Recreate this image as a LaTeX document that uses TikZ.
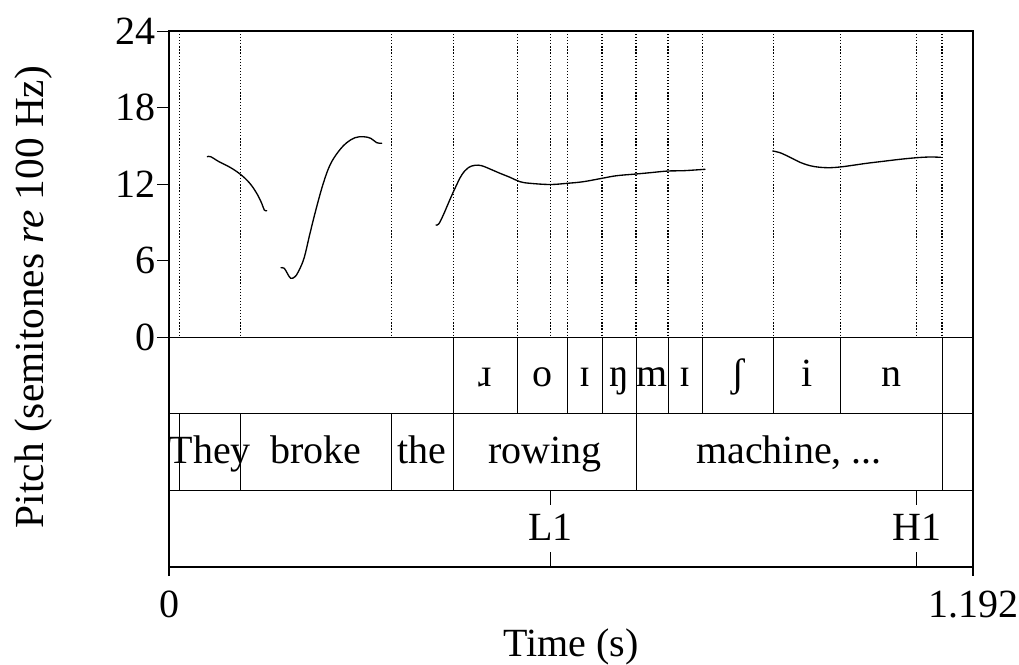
\documentclass[tikz,border=0pt]{standalone}
\usepackage{fontspec}
\setmainfont{Liberation Serif}
\begin{document}
\begin{tikzpicture}[x=0.75pt,y=0.75pt,yscale=-1,xscale=1,
  font=\fontsize{30}{34}\selectfont,
  bound/.style={dash pattern={on 0.9pt off 1.4pt}, line width=0.9pt},
  tier/.style={line width=0.75pt},
  frame/.style={line width=1.5pt},
  pitch/.style={line width=1pt, line join=round, line cap=round}]
\useasboundingbox (0,0) rectangle (1019,664); %set diagram to 1019 x 664

%Dotted boundaries in the pitch area
\draw [bound] (179.3,31) -- (179.3,337) ;
\draw [bound] (240.3,31) -- (240.3,337) ;
\draw [bound] (391.3,31) -- (391.3,337) ;
\draw [bound] (453.3,31) -- (453.3,337) ;
\draw [bound] (517.7,31) -- (517.7,337) ;
\draw [bound] (550.3,31) -- (550.3,337) ;
\draw [bound] (567.3,31) -- (567.3,337) ;
\draw [bound] (602,31) -- (602,337) ;
\draw [bound] (636,31) -- (636,337) ;
\draw [bound] (668,31) -- (668,337) ;
\draw [bound] (702.7,31) -- (702.7,337) ;
\draw [bound] (773.7,31) -- (773.7,337) ;
\draw [bound] (840.3,31) -- (840.3,337) ;
\draw [bound] (916.7,31) -- (916.7,337) ;
\draw [bound] (942,31) -- (942,337) ;

%Pitch contours
\draw [pitch] plot [smooth, tension=0.6] coordinates {(207.3,156.7) (210.7,156.7) (219,161.7) (230,167.3) (240,174) (249.3,182.7) (256.7,193.3) (261.7,203.3) (264.3,210) (266.7,210.7)} ;
\draw [pitch] plot [smooth, tension=0.6] coordinates {(281,267.7) (284.3,268.3) (287.3,273.3) (290.7,278.3) (295,276.7) (298.3,271.7) (304,258.3) (310,233.3) (316.7,206.7) (323.3,183.3) (330,165) (338.3,151.7) (346.7,142.7) (355,137.7) (363.3,136.7) (370.7,138.3) (376.7,142.7) (381.7,143.3)} ;
\draw [pitch] plot [smooth, tension=0.6] coordinates {(436,225) (438.7,224) (443.3,215) (449,201.7) (455,188.3) (461.7,175) (468.3,167.7) (475,165.3) (481.7,165.7) (490,169) (500,173.3) (510,177.3) (520,181.7) (530,183.3) (550,184.5) (567.3,183.3) (583.3,181.7) (602,178.3) (616.7,175.7) (636,174) (650,172.7) (668,171) (683.3,170.7) (705,169.3)} ;
\draw [pitch] plot [smooth, tension=0.6] coordinates {(772.7,151) (780,152.7) (790,157.3) (800,162.3) (810,165.7) (820,167.3) (830,167.7) (840,167) (850,165.7) (866.7,163.3) (883.3,161.3) (900,159.3) (916.7,157.7) (930,157) (940.7,157.3)} ;

%Tier lines
\draw [tier] (169,337) -- (973,337) ;
\draw [tier] (169,413) -- (973,413) ;
\draw [tier] (169,490) -- (973,490) ;

%Phone boundaries
\draw [tier] (453.3,337) -- (453.3,413) ;
\draw [tier] (517.7,337) -- (517.7,413) ;
\draw [tier] (567.3,337) -- (567.3,413) ;
\draw [tier] (602,337) -- (602,413) ;
\draw [tier] (636,337) -- (636,413) ;
\draw [tier] (668,337) -- (668,413) ;
\draw [tier] (702.7,337) -- (702.7,413) ;
\draw [tier] (773.7,337) -- (773.7,413) ;
\draw [tier] (840.3,337) -- (840.3,413) ;
\draw [tier] (942,337) -- (942,413) ;

%Word boundaries
\draw [tier] (179.3,413) -- (179.3,490) ;
\draw [tier] (240.3,413) -- (240.3,490) ;
\draw [tier] (391.3,413) -- (391.3,490) ;
\draw [tier] (453.3,413) -- (453.3,490) ;
\draw [tier] (636,413) -- (636,490) ;
\draw [tier] (942,413) -- (942,490) ;

%Tone points
\draw [tier] (550.3,490) -- (550.3,505) ;
\draw [tier] (550.3,552) -- (550.3,567) ;
\draw [tier] (916.7,490) -- (916.7,505) ;
\draw [tier] (916.7,552) -- (916.7,567) ;

%Frame
\draw [frame] (169,576) -- (169,31) -- (973,31) -- (973,576) ;
\draw [frame] (169,567) -- (973,567) ;

%Axis ticks
\draw [tier] (157,31) -- (169,31) ;
\draw [tier] (157,107.5) -- (169,107.5) ;
\draw [tier] (157,184) -- (169,184) ;
\draw [tier] (157,260.5) -- (169,260.5) ;
\draw [tier] (157,337) -- (169,337) ;

% Text Node
\draw (156,31) node (lab24) [anchor=east] [inner sep=0pt] {24};
\draw (156,107.5) node (lab18) [anchor=east] [inner sep=0pt] {18};
\draw (156,184) node (lab12) [anchor=east] [inner sep=0pt] {12};
\draw (156,260.5) node (lab6) [anchor=east] [inner sep=0pt] {6};
\draw (156,337) node (lab0) [anchor=east] [inner sep=0pt] {0};
% Text Node
\draw (169,617) node (tmin) [anchor=base] [inner sep=0pt] {0};
\draw (973,617) node (tmax) [anchor=base] [inner sep=0pt] {1.192};
% Text Node
\draw (571,656) node (xlab) [anchor=base] [inner sep=0pt] {Time (s)};
\draw (43,297) node (ylab) [anchor=base, rotate=90] [inner sep=0pt] [font=\fontsize{31}{35}\selectfont] {Pitch (semitones \textit{re} 100 Hz)};
% Text Node
\draw (485.5,386.7) node (phR) [anchor=base] [inner sep=0pt] {ɹ};
\draw (542.5,386.7) node (phO) [anchor=base] [inner sep=0pt] {o};
\draw (584.7,386.7) node (phIa) [anchor=base] [inner sep=0pt] {ɪ};
\draw (619,386.7) node (phNg) [anchor=base] [inner sep=0pt] {ŋ};
\draw (652,386.7) node (phM) [anchor=base] [inner sep=0pt] {m};
\draw (685.3,386.7) node (phIb) [anchor=base] [inner sep=0pt] {ɪ};
\draw (738.2,386.7) node (phSh) [anchor=base] [inner sep=0pt] {ʃ};
\draw (807,386.7) node (phI) [anchor=base] [inner sep=0pt] {i};
\draw (891.2,386.7) node (phN) [anchor=base] [inner sep=0pt] {n};
% Text Node
\draw (209.8,463.3) node (wThey) [anchor=base] [inner sep=0pt] {They};
\draw (315.8,463.3) node (wBroke) [anchor=base] [inner sep=0pt] {broke};
\draw (422.3,463.3) node (wThe) [anchor=base] [inner sep=0pt] {the};
\draw (544.7,463.3) node (wRowing) [anchor=base] [inner sep=0pt] {rowing};
\draw (789,463.3) node (wMachine) [anchor=base] [inner sep=0pt] {machine, ...};
% Text Node
\draw (550.3,540.7) node (tL) [anchor=base] [inner sep=0pt] {L1};
\draw (916.7,540.7) node (tH) [anchor=base] [inner sep=0pt] {H1};

\end{tikzpicture}
\end{document}
